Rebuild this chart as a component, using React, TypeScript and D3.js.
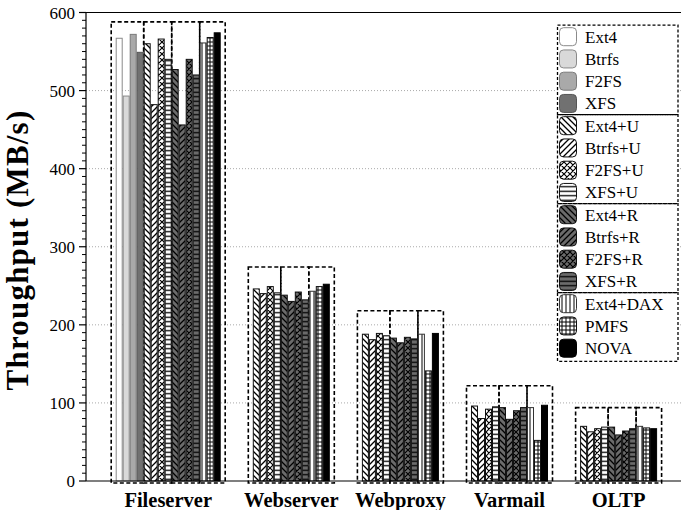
import React from "react";
import * as d3 from "d3";

const categories = ["Fileserver", "Webserver", "Webproxy", "Varmail", "OLTP"];
const seriesNames = [
  "Ext4", "Btrfs", "F2FS", "XFS",
  "Ext4+U", "Btrfs+U", "F2FS+U", "XFS+U",
  "Ext4+R", "Btrfs+R", "F2FS+R", "XFS+R",
  "Ext4+DAX", "PMFS", "NOVA",
];
const seriesGroup = [0, 0, 0, 0, 1, 1, 1, 1, 2, 2, 2, 2, 3, 3, 3];

const ext4 = [567, null, null, null, null];
const btrfs = [493, null, null, null, null];
const f2fs = [572, null, null, null, null];
const xfs = [549, null, null, null, null];
const ext4U = [560, 246, 188, 96, 70];
const btrfsU = [482, 240, 181, 80, 63];
const f2fsU = [566, 249, 189, 92, 67];
const xfsU = [540, 241, 186, 95, 69];
const ext4R = [527, 238, 183, 94, 69];
const btrfsR = [456, 230, 177, 79, 59];
const f2fsR = [540, 242, 184, 90, 64];
const xfsR = [520, 232, 182, 94, 67];
const ext4DAX = [561, 243, 188, 94, 70];
const pmfs = [568, 249, 141, 52, 68];
const nova = [574, 252, 189, 97, 67];
const boxTops = [588, 274, 218, 122, 94];
const yMajorTicks = [0, 100, 200, 300, 400, 500, 600];

const seriesValues: (number | null)[][] = [
  ext4, btrfs, f2fs, xfs, ext4U, btrfsU, f2fsU, xfsU,
  ext4R, btrfsR, f2fsR, xfsR, ext4DAX, pmfs, nova,
];

const GRAY_R = "#6b6b6b";
const seriesFill = [
  "#ffffff", "#d9d9d9", "#a9a9a9", "#717171",
  "url(#p-bd-w)", "url(#p-fd-w)", "url(#p-x-w)", "url(#p-h-w)",
  "url(#p-bd-g)", "url(#p-fd-g)", "url(#p-x-g)", "url(#p-h-g)",
  "url(#p-v-w)", "url(#p-grid-w)", "#000000",
];
const seriesStroke = [
  "#8a8a8a", "#8a8a8a", "#7a7a7a", "#555555",
  "#111", "#111", "#111", "#111",
  "#111", "#111", "#111", "#111",
  "#333", "#111", "#000",
];

const SERIF = "Liberation Serif, Times New Roman, serif";

function Patterns() {
  const lw = 1.3;
  const mk = (id: string, bg: string, size: number, d: string, w = lw) => (
    <pattern id={id} key={id} patternUnits="userSpaceOnUse" width={size} height={size}>
      <rect width={size} height={size} fill={bg} />
      <path d={d} stroke="#000" strokeWidth={w} fill="none" />
    </pattern>
  );
  const bd = "M-1,-1L7,7M-1,5L1,7M5,-1L7,1";
  const fd = "M-1,7L7,-1M-1,1L1,-1M5,7L7,5";
  const x = "M-1,-1L7,7M-1,5L1,7M5,-1L7,1M-1,7L7,-1M-1,1L1,-1M5,7L7,5";
  const h = "M0,2.25H4.5";
  return (
    <defs>
      {mk("p-bd-w", "#fff", 6, bd)}
      {mk("p-fd-w", "#fff", 6, fd)}
      {mk("p-x-w", "#fff", 6, x, 1.2)}
      {mk("p-h-w", "#fff", 4.5, h)}
      {mk("p-bd-g", GRAY_R, 6, bd)}
      {mk("p-fd-g", GRAY_R, 6, fd)}
      {mk("p-x-g", GRAY_R, 6, x, 1.2)}
      {mk("p-h-g", GRAY_R, 4.5, h)}
      {mk("p-v-w", "#fff", 4, "M2,0V4", 1)}
      {mk("p-grid-w", "#fff", 4, "M0,2H4M2,0V4", 1)}
    </defs>
  );
}

export default function App() {
  const W = 681;
  const H = 510;
  const y = d3.scaleLinear().domain([0, 600]).range([481, 12.5]);
  const xCat = d3
    .scaleBand<string>()
    .domain(categories)
    .range([115.7, 657.1])
    .paddingInner(0.0376)
    .paddingOuter(0);
  const xSer = d3.scaleBand<string>().domain(seriesNames).range([0, xCat.bandwidth()]);
  const bw = xSer.bandwidth();
  const axisX = 86;
  const y0 = y(0);
  const minorTicks = d3.range(0, 601, 10).filter((v) => v % 100 !== 0);

  const boxes: { x: number; w: number; top: number }[] = [];
  const labels: { x: number; text: string }[] = [];
  categories.forEach((cat, ci) => {
    const base = xCat(cat)!;
    const present = seriesNames
      .map((s, si) => si)
      .filter((si) => seriesValues[si][ci] != null);
    const groups = Array.from(new Set(present.map((si) => seriesGroup[si])));
    const firstX = base + xSer(seriesNames[present[0]])!;
    const lastX = base + xSer(seriesNames[present[present.length - 1]])! + bw;
    labels.push({ x: (firstX + lastX) / 2, text: cat });
    groups.forEach((g, gi) => {
      const idx = present.filter((si) => seriesGroup[si] === g);
      let a = base + xSer(seriesNames[idx[0]])!;
      let b = base + xSer(seriesNames[idx[idx.length - 1]])! + bw;
      if (gi === 0) a -= 4.5;
      if (gi === groups.length - 1) b += 4.5;
      boxes.push({ x: a, w: b - a, top: y(boxTops[ci]) });
    });
  });

  const legX0 = 557.5;
  const legX1 = 678;
  const rowH = 22.25;
  const row0 = 36.7;
  const legendGroupRanges = [
    [0, 3],
    [4, 7],
    [8, 11],
    [12, 14],
  ];

  return (
    <svg
      width={W}
      height={H}
      style={{ position: "absolute", left: 0, top: 0, background: "#fff", fontFamily: SERIF }}
      xmlns="http://www.w3.org/2000/svg"
    >
      <Patterns />
      <rect width={W} height={H} fill="#fff" />
      {yMajorTicks
        .filter((v) => v > 0 && v < 600)
        .map((v) => (
          <line
            key={"g" + v}
            x1={axisX}
            x2={W}
            y1={y(v)}
            y2={y(v)}
            stroke="#aaaaaa"
            strokeWidth={1}
            strokeDasharray="1,2"
          />
        ))}
      {boxes.map((b, i) => (
        <rect
          key={"box" + i}
          x={b.x}
          y={b.top}
          width={b.w}
          height={y0 - b.top + 2}
          fill="none"
          stroke="#000"
          strokeWidth={1.6}
          strokeDasharray="4,2.5"
        />
      ))}
      {categories.map((cat, ci) =>
        seriesNames.map((s, si) => {
          const v = seriesValues[si][ci];
          if (v == null) return null;
          return (
            <rect
              key={cat + s}
              x={xCat(cat)! + xSer(s)! + 0.5}
              y={y(v)}
              width={bw - 1}
              height={y0 - y(v)}
              fill={seriesFill[si]}
              stroke={seriesStroke[si]}
              strokeWidth={1}
            />
          );
        })
      )}
      <line x1={axisX} x2={W} y1={y0} y2={y0} stroke="#000" strokeWidth={1.2} />
      <line x1={axisX} x2={W} y1={y(600)} y2={y(600)} stroke="#000" strokeWidth={1.2} />
      <line x1={axisX} x2={axisX} y1={y(600)} y2={y0} stroke="#000" strokeWidth={1.2} />
      {yMajorTicks.map((v) => (
        <g key={"t" + v}>
          <line x1={axisX - 7} x2={axisX} y1={y(v)} y2={y(v)} stroke="#000" strokeWidth={1.2} />
          <text
            x={75}
            y={y(v)}
            dy="0.36em"
            textAnchor="end"
            style={{ fontFamily: SERIF }}
            fontSize={17}
            fill="#000"
          >
            {v}
          </text>
        </g>
      ))}
      {minorTicks.map((v) => (
        <line key={"m" + v} x1={axisX - 4} x2={axisX} y1={y(v)} y2={y(v)} stroke="#000" strokeWidth={1} />
      ))}
      {labels.map((l) => (
        <text
          key={"l" + l.text}
          x={l.x}
          y={507}
          textAnchor="middle"
          style={{ fontFamily: SERIF }}
          fontWeight="bold"
          fontSize={20.5}
          fill="#000"
        >
          {l.text}
        </text>
      ))}
      <text
        transform={`translate(28,250) rotate(-90)`}
        textAnchor="middle"
        style={{ fontFamily: SERIF, letterSpacing: "1.2px" }}
        fontWeight="bold"
        fontSize={31}
        fill="#000"
      >
        Throughput (MB/s)
      </text>
      <rect
        x={legX0}
        y={row0 - rowH / 2 - 0.5}
        width={legX1 - legX0}
        height={rowH * 15 + 2}
        fill="#fff"
      />
      {legendGroupRanges.map(([a, b], gi) => {
        const top = row0 + (a - 0.5) * rowH + (gi === 0 ? -0.5 : 0);
        const bot = row0 + (b + 0.5) * rowH + (gi === 3 ? 2 : 0);
        return (
          <rect
            key={"lg" + gi}
            x={legX0}
            y={top}
            width={legX1 - legX0}
            height={bot - top}
            fill="none"
            stroke="#000"
            strokeWidth={1.3}
            strokeDasharray="3,2"
          />
        );
      })}
      {seriesNames.map((s, si) => {
        const cy = row0 + si * rowH;
        return (
          <g key={"leg" + s}>
            <rect
              x={559.5}
              y={cy - 9}
              width={17}
              height={18}
              rx={4}
              ry={4}
              fill={seriesFill[si]}
              stroke={seriesStroke[si]}
              strokeWidth={1}
            />
            <text x={585} y={cy} dy="0.35em" style={{ fontFamily: SERIF }} fontSize={17} fill="#000">
              {s}
            </text>
          </g>
        );
      })}
    </svg>
  );
}
